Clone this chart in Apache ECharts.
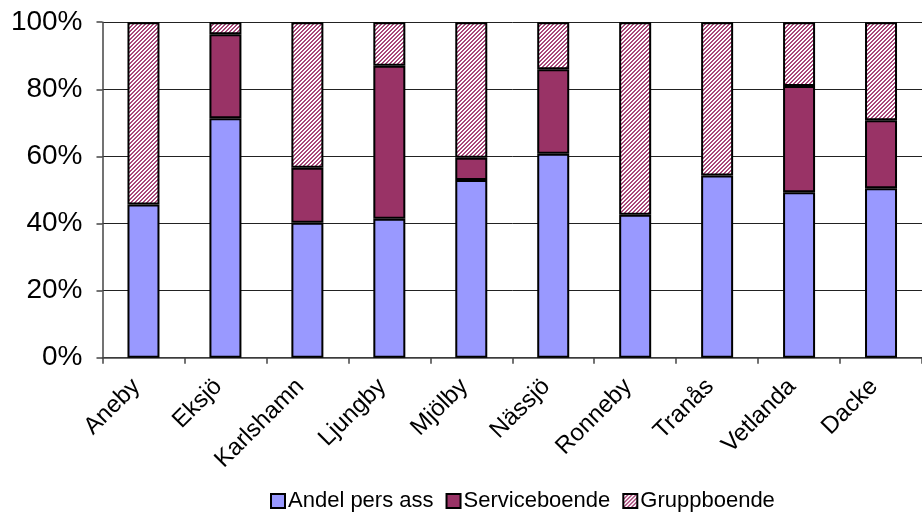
<!DOCTYPE html>
<html>
<head>
<meta charset="utf-8">
<script src="https://cdn.jsdelivr.net/npm/echarts@6/dist/echarts.min.js"></script>
<style>
  html, body { margin: 0; padding: 0; background: #fff; }
  #chart { width: 922px; height: 513px; }
</style>
</head>
<body>
<div id="chart"></div>
<script>
// Municipalities on the category axis
const categories = ['Aneby', 'Eksjö', 'Karlshamn', 'Ljungby', 'Mjölby', 'Nässjö', 'Ronneby', 'Tranås', 'Vetlanda', 'Dacke'];

// Share of each housing type, percent of total per municipality
const andelPersAss   = [45.7, 71.4, 40.2, 41.4, 53.0, 60.8, 42.6, 54.3, 49.3, 50.5];
const serviceboende  = [0.0, 25.0, 16.4, 45.6, 6.6, 25.2, 0.0, 0.0, 31.7, 20.3];
const gruppboende    = [54.3, 3.6, 43.4, 13.0, 40.4, 14.0, 57.4, 45.7, 19.0, 29.2];

const yTicks = [0, 20, 40, 60, 80, 100];

// Empty segments are left out so they don't draw a stray outline
const seg = arr => arr.map(v => (v === 0 ? '-' : v));

// Fine upward-diagonal hatch used for the Gruppboende segments
function hatchPattern() {
  const c = document.createElement('canvas');
  c.width = 4; c.height = 4;
  const g = c.getContext('2d');
  g.fillStyle = '#ffffff';
  g.fillRect(0, 0, 4, 4);
  g.fillStyle = '#a8487a';
  for (let y = 0; y < 4; y++) {
    for (let x = 0; x < 4; x++) {
      if ((x + y) % 4 < 2) g.fillRect(x, y, 1, 1);
    }
  }
  return c;
}

const font = 'Liberation Sans, Arial, sans-serif';
const chart = echarts.init(document.getElementById('chart'), null, { renderer: 'canvas' });

const border = { borderColor: '#000', borderWidth: 2 };

chart.setOption({
  animation: false,
  textStyle: { fontFamily: font },
  grid: { left: 102.5, top: 22.2, width: 828, height: 335.5, containLabel: false },
  legend: {
    left: 265,
    top: 485,
    itemWidth: 14,
    itemHeight: 14,
    itemGap: 12,
    icon: 'rect',
    textStyle: { fontSize: 22, color: '#000', fontFamily: font, padding: [0, 0, 0, -2] },
    data: ['Andel pers ass', 'Serviceboende', 'Gruppboende']
  },
  xAxis: {
    type: 'category',
    data: categories,
    axisLine: { lineStyle: { color: '#444', width: 1.5 } },
    axisTick: { show: true, length: 6, lineStyle: { color: '#444', width: 1.5 } },
    axisLabel: {
      rotate: 45, fontSize: 24, color: '#000', margin: 18, fontFamily: font, interval: 0,
      padding: [0, 10, 0, 0]
    }
  },
  yAxis: {
    type: 'value',
    min: yTicks[0],
    max: yTicks[yTicks.length - 1],
    interval: 20,
    axisLine: { show: true, lineStyle: { color: '#444', width: 1.5 } },
    axisTick: { show: true, length: 6, lineStyle: { color: '#444', width: 1.5 } },
    axisLabel: { formatter: '{value}%', fontSize: 28, color: '#000', margin: 20, fontFamily: font },
    splitLine: { lineStyle: { color: '#222', width: 1 } }
  },
  series: [
    {
      type: 'bar', stack: 'total', barWidth: 32, name: 'Andel pers ass',
      data: seg(andelPersAss), emphasis: { disabled: true },
      itemStyle: Object.assign({ color: '#9999FF' }, border)
    },
    {
      type: 'bar', stack: 'total', barWidth: 32, name: 'Serviceboende',
      data: seg(serviceboende), emphasis: { disabled: true },
      itemStyle: Object.assign({ color: '#993366' }, border)
    },
    {
      type: 'bar', stack: 'total', barWidth: 32, name: 'Gruppboende',
      data: seg(gruppboende), emphasis: { disabled: true },
      itemStyle: Object.assign({ color: { image: hatchPattern(), repeat: 'repeat' } }, border)
    }
  ]
});
</script>
</body>
</html>
